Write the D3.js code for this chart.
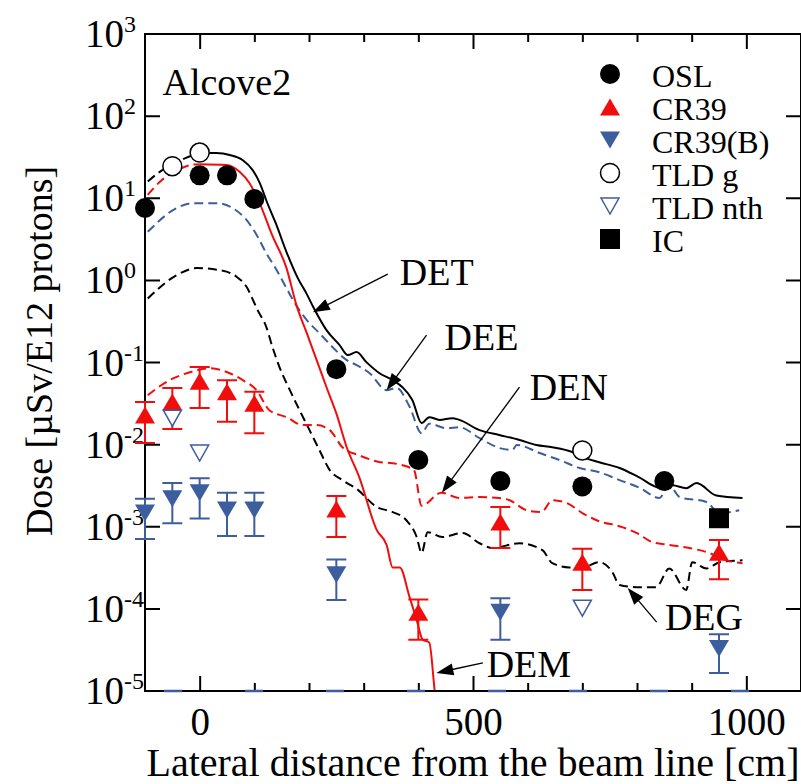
<!DOCTYPE html>
<html>
<head>
<meta charset="utf-8">
<script src="https://cdn.jsdelivr.net/npm/d3@7"></script>
<style>
  body { margin: 0; background: #fff; }
  svg { display: block; }
</style>
</head>
<body>
<svg id="chart" width="801" height="784"></svg>
<script>
"use strict";

// measured points
const oslX = [-100, 0, 50, 100, 250, 400, 550, 700, 850];
const oslY = [7.6, 19, 19, 9.8, 0.083, 0.0065, 0.0036, 0.0031, 0.0036];

const cr39X = [-100, -50, 0, 50, 100, 250, 400, 550, 700, 950];
const cr39Y = [0.023, 0.033, 0.059, 0.044, 0.032, 0.00164, 9.1e-5, 0.00114, 0.00037, 0.00049];
const cr39Lo = [0.0105, 0.0155, 0.028, 0.019, 0.0138, 0.00075, 4.2e-5, 0.00055, 0.00017, 0.00023];
const cr39Hi = [0.033, 0.049, 0.088, 0.061, 0.044, 0.00236, 1.3e-4, 0.00174, 0.00054, 0.00069];

const cr39bX = [-100, -50, 0, 50, 100, 250, 550, 950];
const cr39bY = [0.00147, 0.0022, 0.0026, 0.0016, 0.0016, 2.6e-4, 9.1e-5, 3.3e-5];
const cr39bLo = [0.00071, 0.0011, 0.00126, 0.00077, 0.00077, 1.28e-4, 4.2e-5, 1.66e-5];
const cr39bHi = [0.0022, 0.0034, 0.0039, 0.0026, 0.0026, 4.0e-4, 1.35e-4, 4.9e-5];

const tldgX = [-50, 0, 700];
const tldgY = [24.6, 36, 0.0085];

const tldnX = [-50, 0, 700];
const tldnY = [0.021, 0.0079, 1.02e-4];

const icX = [950];
const icY = [0.00127];

// calculated curves
const detLeftX = [-95, -75, -50, -25, 0];
const detLeftY = [16, 20.5, 26, 31, 35.7];
const detX = [0, 30, 55, 79, 97, 110, 123, 139, 159, 180, 196, 208, 232, 256, 271, 287, 305, 329, 353, 371, 389, 406, 420, 439, 462, 475, 512, 548, 585, 616, 645, 682, 700, 731, 768, 804, 841, 865, 890, 909, 945, 993];
const detY = [35.7, 35.5, 33.6, 29, 22, 15.3, 9.0, 5.0, 2.2, 1.05, 0.68, 0.47, 0.248, 0.163, 0.123, 0.134, 0.101, 0.074, 0.061, 0.050, 0.035, 0.0183, 0.0216, 0.020, 0.021, 0.020, 0.015, 0.0131, 0.0114, 0.0099, 0.0093, 0.0081, 0.0071, 0.0061, 0.0052, 0.0040, 0.0030, 0.0032, 0.00295, 0.0034, 0.0024, 0.00224];

const deeX = [-95, -42, -13, 31, 60, 86, 104, 122, 141, 159, 174, 196, 219, 243, 269, 287, 311, 342, 360, 384, 406, 420, 452, 475, 512, 548, 572, 580, 622, 658, 695, 731, 768, 804, 841, 859, 878, 927, 951, 987];
const deeY = [3.9, 7.6, 8.7, 8.7, 7.6, 5.4, 3.6, 2.14, 1.33, 0.8, 0.53, 0.328, 0.228, 0.154, 0.107, 0.093, 0.074, 0.046, 0.049, 0.029, 0.0138, 0.018, 0.0158, 0.0163, 0.012, 0.0091, 0.0086, 0.0099, 0.0079, 0.0065, 0.0052, 0.0046, 0.0037, 0.0030, 0.00224, 0.0032, 0.0023, 0.0020, 0.00147, 0.00159];

const denX = [-95, -55, -18, 18, 55, 79, 104, 128, 159, 188, 214, 238, 261, 292, 326, 362, 392, 406, 442, 475, 512, 548, 567, 598, 625, 645, 671, 700, 726, 773, 799, 828, 859, 896, 932, 963, 993];
const denY = [0.040, 0.061, 0.076, 0.085, 0.074, 0.061, 0.046, 0.026, 0.0216, 0.0173, 0.0173, 0.015, 0.0093, 0.0074, 0.0062, 0.0058, 0.0049, 0.0018, 0.0026, 0.00224, 0.0023, 0.00224, 0.0021, 0.00159, 0.00151, 0.0021, 0.00195, 0.00147, 0.0012, 0.00099, 0.00084, 0.00065, 0.0006, 0.00055, 0.00048, 0.00039, 0.00036];

const degX = [-95, -42, -5, 37, 68, 86, 100, 106, 122, 133, 146, 165, 183, 201, 219, 238, 261, 287, 324, 353, 378, 397, 406, 417, 444, 481, 512, 536, 585, 627, 645, 676, 700, 731, 755, 768, 799, 835, 859, 890, 901, 927, 951, 993];
const degY = [0.6, 1.16, 1.41, 1.33, 1.10, 0.83, 0.53, 0.435, 0.27, 0.155, 0.088, 0.046, 0.026, 0.015, 0.0086, 0.0049, 0.0037, 0.0029, 0.00174, 0.00151, 0.0012, 0.00075, 0.00048, 0.00086, 0.00075, 0.00084, 0.00063, 0.00055, 0.00063, 0.00052, 0.00036, 0.00032, 0.00032, 0.00037, 0.00028, 0.000195, 0.000184, 0.000184, 0.00031, 0.00017, 0.00037, 0.00031, 0.00037, 0.00039];

const demLeftX = [-95, -70, -40, -15, 0];
const demLeftY = [11, 16.5, 22, 25.5, 26];
const demX = [0, 49, 73, 91, 110, 133, 159, 177, 196, 214, 232, 250, 269, 292, 324, 342, 353, 366, 384, 397, 408, 420, 430, 436];
const demY = [26, 25.4, 21, 15.3, 8.6, 3.5, 1.4, 0.5, 0.228, 0.107, 0.050, 0.024, 0.0093, 0.0040, 0.00091, 0.0006, 0.00032, 0.00032, 0.000139, 7.3e-5, 4.2e-5, 3.9e-5, 1.0e-5, 5e-6];

// series clipped at the lower limit, shows as dashes on the axis
const floorX = [-100, 1100];
const floorY = [1e-5, 1e-5];

// curve labels: text anchor, arrow start, arrow tip (data coords)
const annNames = ["DET", "DEE", "DEN", "DEG", "DEM"];
const annText = [[366, 0.88], [448, 0.142], [604, 0.0348], [851, 5.5e-5], [525, 1.48e-5]];
const annFrom = [[344, 1.19], [415, 0.216], [585, 0.050], [836, 6.9e-5], [518, 2.2e-5]];
const annTip = [[207, 0.41], [342, 0.046], [443, 0.0026], [783, 1.8e-4], [433, 1.66e-5]];

const legendNames = ["OSL", "CR39", "CR39(B)", "TLD g", "TLD nth", "IC"];
const legendTypes = ["circle", "up", "down", "ocircle", "odown", "square"];

const xMajor = [0, 500, 1000];
const xMinor = d3.range(0, 1100, 100);
const yDecades = d3.range(-5, 4);

const RED = "#f20d0d";
const BLUE = "#3d5e9e";
const FONT = "'Liberation Serif', 'Times New Roman', Times, serif";

let svg = d3.select("#chart")
  .attr("font-family", FONT);

let x = d3.scaleLinear().domain([-100, 1100]).range([145, 801]);
let y = d3.scaleLog().domain([1e-5, 1e3]).range([691, 34]);

let plotLeft = x.range()[0], plotRight = x.range()[1];
let plotTop = y.range()[1], plotBottom = y.range()[0];

svg.append("defs").append("clipPath")
  .attr("id", "plotClip")
  .append("rect")
  .attr("x", plotLeft)
  .attr("y", plotTop)
  .attr("width", plotRight - plotLeft)
  .attr("height", plotBottom - plotTop);

function zip(xs, ys) {
  return xs.map((v, i) => [v, ys[i]]);
}

// curves
let line = d3.line()
  .x(d => x(d[0]))
  .y(d => y(d[1]))
  .curve(d3.curveMonotoneX);

let curves = [
  { pts: zip(degX, degY), color: "#000", dash: "9,5" },
  { pts: zip(denX, denY), color: RED, dash: "9,5" },
  { pts: zip(deeX, deeY), color: BLUE, dash: "9,5" },
  { pts: zip(demLeftX, demLeftY), color: RED, dash: "9,5" },
  { pts: zip(demX, demY), color: RED, dash: null },
  { pts: zip(detLeftX, detLeftY), color: "#000", dash: "9,5" },
  { pts: zip(detX, detY), color: "#000", dash: null }
];

let curveGroup = svg.append("g")
  .attr("clip-path", "url(#plotClip)");

curveGroup.selectAll(".curve")
  .data(curves)
  .enter().append("path")
  .attr("class", "curve")
  .attr("fill", "none")
  .attr("stroke", d => d.color)
  .attr("stroke-width", 2)
  .attr("stroke-dasharray", d => d.dash)
  .attr("d", d => line(d.pts));

// axes frame and ticks
let axisGroup = svg.append("g");

axisGroup.append("rect")
  .attr("x", plotLeft)
  .attr("y", plotTop)
  .attr("width", plotRight - plotLeft)
  .attr("height", plotBottom - plotTop)
  .attr("fill", "none")
  .attr("stroke", "#000")
  .attr("stroke-width", 2);

function addXAxis(values, size, labels) {
  let bottomAxis = d3.axisBottom(x)
    .tickValues(values)
    .tickSizeInner(-size)
    .tickSizeOuter(0)
    .tickPadding(16)
    .tickFormat(labels ? d3.format("d") : "");
  let topAxis = d3.axisTop(x)
    .tickValues(values)
    .tickSizeInner(-size)
    .tickSizeOuter(0)
    .tickFormat("");

  let gb = axisGroup.append("g")
    .attr("transform", `translate(0,${plotBottom})`)
    .call(bottomAxis);
  let gt = axisGroup.append("g")
    .attr("transform", `translate(0,${plotTop})`)
    .call(topAxis);

  for (let g of [gb, gt]) {
    g.attr("font-family", FONT).attr("font-size", 39);
    g.select(".domain").remove();
    g.selectAll("line").attr("stroke", "#000").attr("stroke-width", 2);
    g.selectAll("text").attr("fill", "#000");
  }
}

addXAxis(xMinor.filter(v => !xMajor.includes(v)), 8, false);
addXAxis(xMajor, 15, true);

// clipped series along the bottom
svg.append("path")
  .attr("fill", "none")
  .attr("stroke", BLUE)
  .attr("stroke-width", 2.5)
  .attr("stroke-dasharray", "18,63")
  .attr("stroke-dashoffset", -19)
  .attr("d", d3.line().x(d => x(d[0])).y(d => y(d[1]))(zip(floorX, floorY)));

let yTicks = axisGroup.append("g");

yTicks.selectAll(".yTick")
  .data(yDecades)
  .enter().append("path")
  .attr("class", "yTick")
  .attr("stroke", "#000")
  .attr("stroke-width", 2)
  .attr("d", d => {
    let py = y(Math.pow(10, d));
    return `M${plotLeft},${py}H${plotLeft + 15}M${plotRight - 15},${py}H${plotRight}`;
  });

yTicks.selectAll(".yLabel")
  .data(yDecades)
  .enter().append("text")
  .attr("class", "yLabel")
  .attr("x", plotLeft - 60)
  .attr("y", d => y(Math.pow(10, d)) + 13)
  .attr("font-size", 39)
  .each(function(d) {
    let t = d3.select(this);
    t.append("tspan").text("10");
    t.append("tspan")
      .attr("font-size", 24)
      .attr("dy", -15)
      .text(d);
  });

// axis titles
svg.append("text")
  .attr("x", 473)
  .attr("y", 776)
  .attr("text-anchor", "middle")
  .attr("font-size", 40)
  .text("Lateral distance from the beam line [cm]");

svg.append("text")
  .attr("transform", "translate(52,351) rotate(-90)")
  .attr("text-anchor", "middle")
  .attr("font-size", 38)
  .text("Dose [\u00b5Sv/E12 protons]");

svg.append("text")
  .attr("x", x(-68))
  .attr("y", y(181))
  .attr("font-size", 38)
  .text("Alcove2");

// marker drawing
function drawMarker(g, type, cx, cy) {
  if (type === "circle" || type === "ocircle") {
    g.append("circle")
      .attr("cx", cx)
      .attr("cy", cy)
      .attr("r", type === "circle" ? 10 : 9.5)
      .attr("fill", type === "circle" ? "#000" : "#fff")
      .attr("stroke", "#000")
      .attr("stroke-width", type === "circle" ? 0 : 1.5);
  } else if (type === "square") {
    g.append("rect")
      .attr("x", cx - 10)
      .attr("y", cy - 10)
      .attr("width", 20)
      .attr("height", 20)
      .attr("fill", "#000");
  } else {
    let down = type !== "up";
    let open = type === "odown";
    let h = 17, w = 20;
    let s = down ? -1 : 1;
    let pts = [[cx, cy - s * h / 2], [cx - w / 2, cy + s * h / 2], [cx + w / 2, cy + s * h / 2]];
    if (open) {
      pts = [[cx, cy + 8], [cx - 9, cy - 8], [cx + 9, cy - 8]];
    }
    g.append("path")
      .attr("d", "M" + pts.map(p => p.join(",")).join("L") + "Z")
      .attr("fill", open ? "#fff" : (type === "up" ? RED : BLUE))
      .attr("stroke", open ? BLUE : "none")
      .attr("stroke-width", 1.5);
  }
}

function drawErrorBars(g, xs, lo, hi, color) {
  xs.forEach((v, i) => {
    let px = x(v);
    let y0 = y(lo[i]), y1 = y(hi[i]);
    g.append("path")
      .attr("fill", "none")
      .attr("stroke", color)
      .attr("stroke-width", 2)
      .attr("d", `M${px},${y0}V${y1}M${px - 10},${y0}H${px + 10}M${px - 10},${y1}H${px + 10}`);
  });
}

let pointGroup = svg.append("g");

drawErrorBars(pointGroup, cr39X, cr39Lo, cr39Hi, RED);
drawErrorBars(pointGroup, cr39bX, cr39bLo, cr39bHi, BLUE);

let pointSets = [
  { xs: cr39X, ys: cr39Y, type: "up" },
  { xs: cr39bX, ys: cr39bY, type: "down" },
  { xs: tldnX, ys: tldnY, type: "odown" },
  { xs: oslX, ys: oslY, type: "circle" },
  { xs: tldgX, ys: tldgY, type: "ocircle" },
  { xs: icX, ys: icY, type: "square" }
];

for (let set of pointSets) {
  set.xs.forEach((v, i) => drawMarker(pointGroup, set.type, x(v), y(set.ys[i])));
}

// curve annotations with arrows
let annGroup = svg.append("g");

annNames.forEach((name, i) => {
  let sx = x(annFrom[i][0]), sy = y(annFrom[i][1]);
  let tx = x(annTip[i][0]), ty = y(annTip[i][1]);
  let len = Math.hypot(tx - sx, ty - sy);
  let ux = (tx - sx) / len, uy = (ty - sy) / len;
  let headLen = 17, headW = 6;
  let bx = tx - ux * headLen, by = ty - uy * headLen;

  annGroup.append("line")
    .attr("x1", sx)
    .attr("y1", sy)
    .attr("x2", bx + ux * 2)
    .attr("y2", by + uy * 2)
    .attr("stroke", "#000")
    .attr("stroke-width", 1.3);

  annGroup.append("path")
    .attr("fill", "#000")
    .attr("d", `M${tx},${ty}L${bx - uy * headW},${by + ux * headW}L${bx + uy * headW},${by - ux * headW}Z`);

  annGroup.append("text")
    .attr("x", x(annText[i][0]))
    .attr("y", y(annText[i][1]))
    .attr("font-size", 38)
    .text(name);
});

// legend
let legend = svg.append("g");
let legendX = 610, legendTop = 74, legendStep = 33;

legendNames.forEach((name, i) => {
  let ly = legendTop + i * legendStep;
  drawMarker(legend, legendTypes[i], legendX, ly);
  legend.append("text")
    .attr("x", 652)
    .attr("y", ly + 13)
    .attr("font-size", 32)
    .text(name);
});
</script>
</body>
</html>
